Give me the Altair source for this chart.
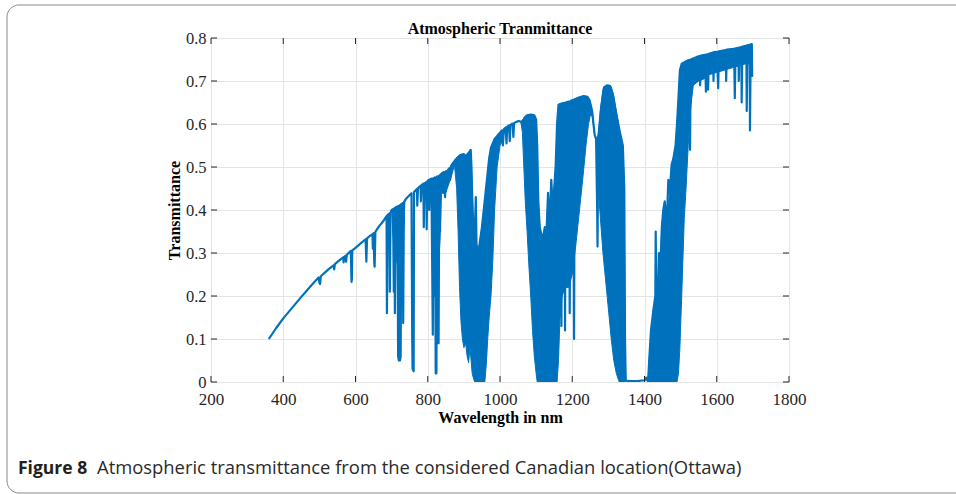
import altair as alt
import pandas as pd

BLUE = "#0072BD"
AXC = "#262626"

# ---- axis ticks ----
x_ticks = [200, 400, 600, 800, 1000, 1200, 1400, 1600, 1800]
y_ticks = [0, 0.1, 0.2, 0.3, 0.4, 0.5, 0.6, 0.7, 0.8]

# ---- transmittance trace (upper edge with absorption spikes) ----
seg1_wl = [360, 380, 400, 425, 450, 475, 490, 498, 500, 502, 504, 525, 540, 541, 543, 555, 566, 567, 569, 573,
           574, 576, 587, 589, 590, 591, 600, 615, 628, 630, 632, 640, 647, 648, 650, 652, 653, 655, 665, 675,
           686, 687, 689, 694, 695, 697, 700]
seg1_tr = [.100, .125, .148, .173, .198, .222, .236, .243, .232, .228, .246, .262, .272, .262, .274, .283, .290, .278, .291, .294,
           .280, .296, .305, .233, .240, .306, .312, .323, .332, .280, .334, .340, .344, .310, .346, .275, .268, .349, .362, .372,
           .386, .160, .388, .392, .210, .394, .400]

seg2_wl = [704, 706, 708, 709, 711, 716, 718, 720, 722, 723, 725, 727, 731, 732, 734, 738, 742, 750, 755, 757,
           758, 761, 762, 770, 771, 773, 780, 781, 783, 788, 789, 791, 796, 797, 799, 803, 804, 806, 810, 812,
           814, 816, 818, 820, 822, 824, 826, 828, 830, 832, 834, 836, 840, 842, 844, 848, 850, 855, 858, 862,
           866, 875, 880]
seg2_tr = [.402, .210, .404, .160, .406, .408, .060, .050, .410, .050, .060, .414, .416, .137, .418, .424, .428, .435, .439, .100,
           .030, .025, .442, .449, .410, .451, .456, .420, .458, .461, .360, .462, .465, .355, .467, .470, .400, .471, .473, .300,
           .110, .474, .200, .476, .020, .020, .478, .150, .090, .480, .350, .483, .486, .440, .488, .430, .490, .460, .496, .470,
           .505, .515, .520]

seg3_wl = [890, 900, 905, 910, 915, 919, 921, 924, 927, 930, 933, 935, 940, 945, 950, 955, 960, 965, 970, 975,
           980, 985, 990, 995, 1000, 1005, 1008, 1011, 1016, 1018, 1020, 1025, 1027, 1029, 1035, 1037, 1039, 1045, 1052, 1058,
           1062]
seg3_tr = [.528, .530, .525, .530, .535, .540, .500, .400, .360, .330, .430, .320, .300, .330, .360, .400, .440, .480, .520, .545,
           .555, .565, .570, .575, .580, .585, .550, .588, .592, .555, .594, .597, .560, .598, .601, .570, .602, .605, .607, .605,
           .600]

seg4_wl = [1068, 1075, 1085, 1095, 1100, 1103, 1106, 1110, 1118, 1124, 1128, 1133, 1137, 1142, 1146, 1150, 1154, 1158, 1162, 1168,
           1170, 1172, 1178, 1180, 1182, 1190, 1193, 1196, 1203, 1205, 1207, 1215, 1220, 1232, 1242, 1248, 1255, 1262, 1266, 1269,
           1270, 1271, 1273, 1280, 1288, 1296, 1305, 1312, 1318, 1325, 1332, 1340, 1344, 1346, 1348]
seg4_tr = [.615, .620, .622, .620, .610, .550, .420, .360, .330, .360, .330, .440, .360, .470, .400, .450, .500, .600, .645, .647,
           .130, .648, .649, .120, .650, .652, .160, .654, .656, .100, .657, .660, .662, .665, .663, .655, .630, .575, .565, .400,
           .315, .450, .575, .640, .685, .690, .688, .670, .640, .610, .580, .550, .450, .100, .003]

seg5_wl = [1360, 1380, 1400, 1405, 1408, 1410, 1413, 1418, 1425, 1430, 1431, 1433, 1438, 1440, 1443, 1448, 1452, 1456, 1460, 1463,
           1466, 1470, 1475, 1480, 1486, 1490, 1494, 1498, 1503, 1520, 1524, 1526, 1528]
seg5_tr = [.002, .002, .004, .010, .003, .002, .050, .120, .170, .200, .350, .200, .220, .300, .250, .360, .400, .420, .380, .400,
           .470, .440, .505, .520, .550, .600, .660, .725, .740, .748, .749, .540, .750]

seg6_wl = [1545, 1553, 1554, 1556, 1568, 1570, 1572, 1576, 1578, 1590, 1591, 1593, 1600, 1604, 1606, 1625, 1626, 1628, 1648, 1650,
           1652, 1660, 1661, 1663, 1668, 1669, 1671, 1682, 1683, 1685, 1691, 1692, 1694, 1697, 1698]
seg6_tr = [.756, .758, .690, .759, .761, .675, .762, .680, .763, .766, .700, .767, .768, .683, .769, .772, .700, .773, .775, .660,
           .776, .777, .700, .778, .779, .650, .780, .782, .630, .783, .784, .585, .785, .786, .710]

# ---- densely oscillating absorption bands: upper / lower envelopes ----
b1_wl = [700, 703, 706, 710, 714, 718, 722, 726, 730, 734, 737]
b1_hi = [.400, .402, .404, .406, .408, .410, .412, .414, .416, .419, .424]
b1_lo = [.400, .350, .320, .300, .280, .270, .280, .300, .320, .360, .424]

b2_wl = [806, 810, 816, 822, 828, 834, 838, 844, 850, 858, 866, 874, 880, 884, 888, 892, 896, 900, 905, 909,
         913, 917, 920, 923, 926, 930, 933, 935, 940, 945, 950, 955, 958, 962, 966, 970, 975, 980, 985, 992,
         1000, 1006, 1012]
b2_hi = [.471, .473, .474, .476, .478, .482, .484, .488, .490, .496, .505, .514, .520, .524, .527, .528, .529, .530, .525, .530,
         .532, .535, .520, .450, .380, .330, .430, .320, .300, .330, .360, .400, .420, .450, .485, .520, .545, .555, .565, .572,
         .580, .585, .589]
b2_lo = [.471, .400, .300, .250, .250, .330, .450, .440, .440, .460, .480, .505, .450, .350, .220, .140, .100, .080, .090, .060,
         .045, .080, .050, .020, .010, 0, 0, 0, 0, 0, 0, 0, 0, .040, .100, .150, .200, .280, .400, .500,
         .550, .560, .589]

b3_wl = [1058, 1062, 1066, 1070, 1075, 1080, 1085, 1090, 1095, 1100, 1103, 1106, 1110, 1114, 1118, 1124, 1128, 1133, 1137, 1142,
         1146, 1150, 1154, 1158, 1162, 1166]
b3_hi = [.605, .610, .613, .616, .620, .621, .622, .622, .620, .610, .550, .420, .360, .340, .330, .360, .330, .440, .360, .470,
         .400, .450, .500, .600, .645, .646]
b3_lo = [.605, .580, .500, .420, .350, .270, .200, .120, .060, .020, 0, 0, 0, 0, 0, 0, 0, 0, 0, 0,
         0, 0, 0, 0, .050, .150]

b4_wl = [1166, 1172, 1180, 1190, 1200, 1210, 1220, 1230, 1238, 1245, 1250, 1255, 1262, 1266]
b4_hi = [.646, .648, .650, .652, .656, .660, .662, .665, .664, .660, .650, .630, .575, .565]
b4_lo = [.150, .200, .220, .220, .250, .320, .400, .480, .550, .600, .620, .620, .575, .565]

b5_wl = [1266, 1272, 1278, 1285, 1292, 1300, 1308, 1315, 1322, 1330, 1336, 1340, 1344, 1346, 1348]
b5_hi = [.565, .575, .630, .680, .688, .690, .686, .665, .630, .590, .560, .550, .450, .100, .003]
b5_lo = [.565, .450, .380, .300, .240, .170, .100, .050, .020, 0, 0, 0, 0, 0, .003]

b6_wl = [1410, 1413, 1418, 1425, 1430, 1433, 1438, 1443, 1448, 1452, 1456, 1460, 1463, 1470, 1475, 1480, 1486, 1490, 1494, 1498,
         1503, 1510, 1515, 1521, 1528, 1535]
b6_hi = [.002, .050, .120, .170, .200, .200, .220, .250, .360, .400, .420, .380, .400, .440, .505, .520, .550, .600, .660, .725,
         .740, .744, .746, .748, .750, .752]
b6_lo = [.002, 0, 0, 0, 0, 0, 0, 0, 0, 0, 0, 0, 0, 0, 0, 0, 0, 0, .020, .080,
         .200, .380, .450, .550, .640, .690]

b7_wl = [1535, 1550, 1565, 1580, 1600, 1620, 1640, 1660, 1680, 1697, 1698]
b7_hi = [.752, .757, .760, .764, .768, .771, .774, .777, .781, .786, .710]
b7_lo = [.690, .700, .705, .715, .720, .725, .730, .735, .740, .740, .710]

# ---- texts ----
title_text = "Atmospheric Tranmittance"
x_title = "Wavelength in nm"
y_title = "Transmittance"
caption_bold = "Figure 8"
caption_text = "Atmospheric transmittance from the considered Canadian location(Ottawa)"

# ---- tables ----
line_df = pd.DataFrame({
    "wl": seg1_wl + seg2_wl + seg3_wl + seg4_wl + seg5_wl + seg6_wl,
    "tr": seg1_tr + seg2_tr + seg3_tr + seg4_tr + seg5_tr + seg6_tr,
})
rows = []
for i, (w, h, l) in enumerate([(b1_wl, b1_hi, b1_lo), (b2_wl, b2_hi, b2_lo), (b3_wl, b3_hi, b3_lo),
                                (b4_wl, b4_hi, b4_lo), (b5_wl, b5_hi, b5_lo), (b6_wl, b6_hi, b6_lo),
                                (b7_wl, b7_hi, b7_lo)]):
    for a, b, c in zip(w, h, l):
        rows.append({"band": i, "wl": a, "hi": b, "lo": c})
band_df = pd.DataFrame(rows)
xt_df = pd.DataFrame({"wl": x_ticks})
yt_df = pd.DataFrame({"tr": y_ticks})
one = pd.DataFrame({"k": [0]})

W, H = 578, 344
SERIF = "Liberation Serif"
xscale = alt.Scale(domain=[200, 1800], nice=False, zero=False)
yscale = alt.Scale(domain=[0, 0.8], nice=False, zero=False)

x_axis = alt.Axis(values=x_ticks, format="d", title=x_title, titleFont=SERIF, titleFontSize=16,
                  titleFontWeight="bold", titleColor="black", titlePadding=2,
                  labelFont=SERIF, labelFontSize=17, labelColor=AXC, labelPadding=9,
                  ticks=False, domain=False, grid=True, gridColor="#e4e4e4", labelFlush=False)
y_axis = alt.Axis(values=y_ticks, labelExpr="datum.value == 0 ? '0' : format(datum.value, '.1f')",
                  title=y_title, titleFont=SERIF, titleFontSize=16, titleFontWeight="bold",
                  titleColor="black", titlePadding=3,
                  labelFont=SERIF, labelFontSize=16.5, labelColor=AXC, labelPadding=5,
                  ticks=False, domain=False, grid=True, gridColor="#e4e4e4", labelFlush=False)

X = alt.X("wl:Q", scale=xscale, axis=x_axis)
Y_hi = alt.Y("hi:Q", scale=yscale, axis=y_axis)
Y_tr = alt.Y("tr:Q", scale=yscale, axis=y_axis)

frame = alt.Chart(one).mark_rect(fillOpacity=0, stroke="#8a8a8a", strokeWidth=1, cornerRadius=12).encode(
    x=alt.value(-204), x2=alt.value(790), y=alt.value(-33), y2=alt.value(455))

bands = alt.Chart(band_df).mark_area(color=BLUE, stroke=BLUE, strokeWidth=1, clip=True).encode(
    x=X, y=Y_hi, y2="lo:Q", detail="band:N",
)

line = alt.Chart(line_df).mark_line(color=BLUE, strokeWidth=2.2, strokeJoin="round", clip=True).encode(
    x=X, y=Y_tr,
)

tick_b = alt.Chart(xt_df).mark_rule(color=AXC, strokeWidth=1).encode(
    x=X, y=alt.value(H), y2=alt.value(H - 6))
tick_t = alt.Chart(xt_df).mark_rule(color=AXC, strokeWidth=1).encode(
    x=X, y=alt.value(0), y2=alt.value(6))
tick_l = alt.Chart(yt_df).mark_rule(color=AXC, strokeWidth=1).encode(
    y=Y_tr, x=alt.value(0), x2=alt.value(6))
tick_r = alt.Chart(yt_df).mark_rule(color=AXC, strokeWidth=1).encode(
    y=Y_tr, x=alt.value(W), x2=alt.value(W - 6))

title = alt.Chart(one).mark_text(align="center", baseline="alphabetic", font=SERIF, fontWeight="bold",
                                 fontSize=16, color="black").encode(
    x=alt.value(W / 2), y=alt.value(-4), text=alt.value(title_text))

cap1 = alt.Chart(one).mark_text(align="left", baseline="alphabetic", font="Open Sans", fontWeight="bold",
                                fontSize=17.5, color="#231f20").encode(
    x=alt.value(-193), y=alt.value(436), text=alt.value(caption_bold))
cap2 = alt.Chart(one).mark_text(align="left", baseline="alphabetic", font="Open Sans", fontWeight="normal",
                                fontSize=18.4, color="#2a2a2a").encode(
    x=alt.value(-114), y=alt.value(436), text=alt.value(caption_text))

chart = alt.layer(frame, bands, line, tick_b, tick_t, tick_l, tick_r, title, cap1, cap2).properties(
    width=W, height=H,
    padding={"left": 211, "top": 38, "right": 167, "bottom": 112},
    autosize=alt.AutoSizeParams(type="none"),
).configure_view(stroke=AXC, strokeWidth=1).configure(background="white")

chart.save("out.html", embed_options={"renderer": "svg", "actions": False})
